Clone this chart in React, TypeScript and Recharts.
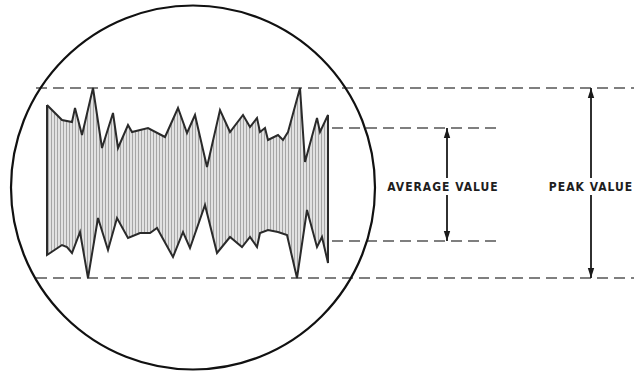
import React from 'react';
import { ComposedChart, Area, Line, XAxis, YAxis, ReferenceLine, ReferenceDot } from 'recharts';

const upperX = [47, 62, 72, 75, 82, 93, 102, 113, 118, 128, 132, 148, 165, 178, 187, 195, 207, 220, 230, 243, 250, 257, 260, 265, 268, 278, 283, 288, 300, 305, 317, 320, 328];
const upperY = [78, 63, 61, 75, 48, 95, 35, 70, 35, 58, 51, 55, 46, 75, 50, 68, 16, 73, 51, 68, 56, 65, 51, 55, 43, 48, 43, 51, 95, 21, 65, 51, 68];

const lowerX = [47, 62, 67, 72, 80, 88, 98, 108, 117, 128, 140, 150, 157, 173, 183, 190, 205, 217, 230, 242, 250, 257, 260, 268, 278, 287, 297, 307, 317, 322, 328];
const lowerY = [-72, -62, -64, -70, -49, -95, -35, -67, -35, -55, -50, -50, -45, -74, -49, -65, -22, -70, -54, -64, -54, -64, -50, -47, -49, -52, -95, -27, -64, -54, -80];

// reference levels
const peakLevel = [95, -95];
const averageLevel = [55, -58];
const peakSpan = [36, 634];
const averageSpan = [332, 502];

// the scope face
const screenCentre = { x: 193, y: -4.5 };
const screenRadius = 182;

// annotation arrows: outer tip at the level, inner end at the label gap
const labelGap = [5, -12];
const averageArrowX = 447;
const peakArrowX = 591;

const upper = upperX.map((x, i) => ({ x, y: upperY[i] }));
const lower = lowerX.map((x, i) => ({ x, y: lowerY[i] }));
const outline = [...upper, ...[...lower].reverse(), upper[0]];

const ArrowShape = (props: any) => {
  const { x1, y1, x2, y2 } = props;
  const s = Math.sign(y1 - y2);
  const head = 10;
  return (
    <g>
      <line x1={x1} y1={y1} x2={x2} y2={y2} stroke="#1a1a1a" strokeWidth={1.8} />
      <polygon
        points={`${x1},${y1} ${x1 - 3.2},${y1 - s * head} ${x1 + 3.2},${y1 - s * head}`}
        fill="#1a1a1a"
      />
    </g>
  );
};

const labelStyle = {
  fill: '#1e1e1e',
  fontSize: 12,
  fontWeight: 'bold',
  fontFamily: 'DejaVu Sans Condensed, DejaVu Sans, sans-serif',
  letterSpacing: 1,
};

const App: React.FC = () => {
  const dash = { stroke: '#555', strokeWidth: 1.3, strokeDasharray: '11 6' };

  return (
    <div style={{ position: 'absolute', left: 0, top: 0, width: 634, height: 374, background: '#fff' }}>
      <ComposedChart width={634} height={374} margin={{ top: 0, right: 0, bottom: 0, left: 0 }}>
        <defs>
          <pattern id="hatch" width="3" height="4" patternUnits="userSpaceOnUse">
            <rect width="3" height="4" fill="#e2e2e2" />
            <rect width="1" height="4" fill="#a6a6a6" />
          </pattern>
        </defs>
        <XAxis type="number" dataKey="x" domain={[0, 634]} hide allowDataOverflow />
        <YAxis type="number" dataKey="y" domain={[-191, 183]} hide allowDataOverflow />

        <ReferenceDot
          x={screenCentre.x}
          y={screenCentre.y}
          r={screenRadius}
          fill="none"
          stroke="#111"
          strokeWidth={2.2}
          ifOverflow="visible"
        />

        {peakLevel.map((v) => (
          <ReferenceLine key={`p${v}`} segment={[{ x: peakSpan[0], y: v }, { x: peakSpan[1], y: v }]} {...dash} />
        ))}
        {averageLevel.map((v) => (
          <ReferenceLine key={`a${v}`} segment={[{ x: averageSpan[0], y: v }, { x: averageSpan[1], y: v }]} {...dash} />
        ))}

        <Area
          data={upper}
          dataKey="y"
          type="linear"
          baseValue={-4}
          fill="url(#hatch)"
          fillOpacity={1}
          stroke="none"
          dot={false}
          activeDot={false}
          isAnimationActive={false}
        />
        <Area
          data={lower}
          dataKey="y"
          type="linear"
          baseValue={4}
          fill="url(#hatch)"
          fillOpacity={1}
          stroke="none"
          dot={false}
          activeDot={false}
          isAnimationActive={false}
        />
        <Line
          data={outline}
          dataKey="y"
          type="linear"
          stroke="#2a2a2a"
          strokeWidth={2}
          strokeLinejoin="miter"
          dot={false}
          activeDot={false}
          isAnimationActive={false}
        />

        {/* arrows */}
        <ReferenceLine segment={[{ x: averageArrowX, y: averageLevel[0] }, { x: averageArrowX, y: labelGap[0] }]} shape={ArrowShape} />
        <ReferenceLine segment={[{ x: averageArrowX, y: averageLevel[1] }, { x: averageArrowX, y: labelGap[1] }]} shape={ArrowShape} />
        <ReferenceLine segment={[{ x: peakArrowX, y: peakLevel[0] }, { x: peakArrowX, y: labelGap[0] }]} shape={ArrowShape} />
        <ReferenceLine segment={[{ x: peakArrowX, y: peakLevel[1] }, { x: peakArrowX, y: labelGap[1] }]} shape={ArrowShape} />

        <ReferenceDot
          x={averageArrowX - 4}
          y={-4}
          r={1}
          fill="none"
          stroke="none"
          label={{ value: 'AVERAGE VALUE', position: 'center', ...labelStyle }}
        />
        <ReferenceDot
          x={peakArrowX}
          y={-4}
          r={1}
          fill="none"
          stroke="none"
          label={{ value: 'PEAK VALUE', position: 'center', ...labelStyle }}
        />
      </ComposedChart>
    </div>
  );
};

export default App;
